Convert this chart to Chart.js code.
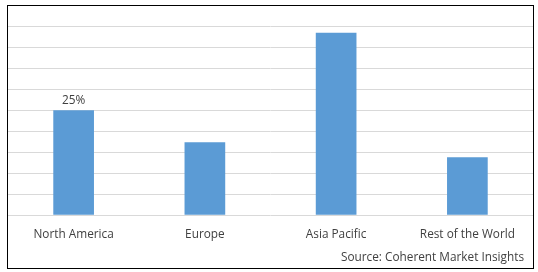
<!DOCTYPE html>
<html>
<head>
<meta charset="utf-8">
<script src="https://cdn.jsdelivr.net/npm/chart.js@4"></script>
<style>
  body { margin: 0; background: #fff; }
  #box { position: absolute; left: 7px; top: 5px; width: 525px; height: 262px; border: 1px solid #000; }
</style>
</head>
<body>
<div id="box"><canvas id="barChart" width="525" height="262"></canvas></div>
<script>
const regions = ['North America', 'Europe', 'Asia Pacific', 'Rest of the World'];
const shares = [25, 17.4, 43.4, 13.8];
const shareLabels = ['25%', '', '', ''];
const source = 'Source: Coherent Market Insights';

const labelPlugin = {
  id: 'labels',
  afterDatasetsDraw(chart) {
    const c = chart.ctx;
    const bars = chart.getDatasetMeta(0).data;
    c.save();
    c.font = '11.8px "Open Sans"';
    c.fillStyle = '#404040';
    c.textAlign = 'center';
    c.textBaseline = 'bottom';
    bars.forEach((bar, i) => {
      if (shareLabels[i]) c.fillText(shareLabels[i], bar.x, bar.y - 4);
    });
    c.textAlign = 'right';
    c.textBaseline = 'middle';
    c.fillText(source, chart.chartArea.right - 9, chart.height - 10);
    c.restore();
  }
};

new Chart(document.getElementById('barChart'), {
  type: 'bar',
  data: {
    labels: regions,
    datasets: [{
      data: shares,
      backgroundColor: '#5b9bd5',
      categoryPercentage: 1,
      barPercentage: 0.31
    }]
  },
  options: {
    responsive: false,
    animation: false,
    layout: { padding: { top: 20, bottom: 14.5, left: 0, right: 0 } },
    plugins: { legend: { display: false }, tooltip: { enabled: false } },
    scales: {
      x: {
        grid: { display: false, drawTicks: false },
        border: { display: false },
        ticks: { color: '#404040', padding: 12, font: { family: 'Open Sans', size: 11.8 } }
      },
      y: {
        min: 0,
        max: 45,
        ticks: { display: false, stepSize: 5 },
        grid: { color: '#d9d9d9', drawTicks: false },
        border: { display: false }
      }
    }
  },
  plugins: [labelPlugin]
});
</script>
</body>
</html>
